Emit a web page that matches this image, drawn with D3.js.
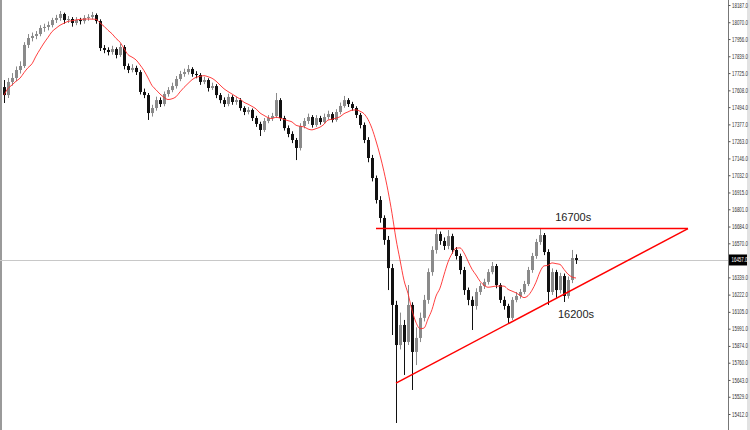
<!DOCTYPE html>
<html><head><meta charset="utf-8">
<script src="https://cdn.jsdelivr.net/npm/d3@7"></script>
<style>html,body{margin:0;padding:0;background:#fff;overflow:hidden}svg{display:block}</style>
</head><body><svg id="c" width="750" height="430"></svg>
<script>
const opens = [17630,17576,17665,17692,17746,17773,17916,17963,17977,17990,18031,18038,18051,18085,18099,18126,18085,18092,18065,18085,18078,18099,18106,18119,18078,17895,17882,17868,17888,17848,17902,17773,17746,17760,17732,17597,17576,17454,17488,17542,17515,17583,17610,17637,17685,17719,17732,17753,17719,17712,17665,17678,17624,17637,17576,17542,17515,17563,17529,17542,17488,17461,17475,17420,17380,17339,17400,17420,17434,17542,17420,17352,17312,17271,17217,17366,17400,17427,17373,17420,17393,17427,17447,17407,17461,17502,17542,17515,17488,17441,17373,17271,17149,17013,16864,16742,16593,16402,16152,15880,16016,15901,16152,15833,15928,16064,16186,16375,16525,16633,16586,16552,16619,16525,16484,16389,16253,16186,16145,16240,16280,16308,16375,16416,16287,16186,16145,16064,16186,16213,16240,16294,16389,16484,16579,16626,16511,16240,16375,16253,16348,16213,16321,16470];
const highs = [17678,17692,17725,17770,17805,17935,17990,18000,18010,18050,18060,18075,18100,18120,18146,18135,18112,18105,18105,18100,18118,18125,18140,18130,18090,17915,17900,17910,17900,17925,17915,17790,17785,17775,17745,17620,17590,17510,17565,17560,17600,17630,17660,17705,17740,17755,17780,17765,17738,17725,17700,17690,17660,17650,17590,17560,17585,17575,17565,17555,17500,17495,17485,17435,17395,17420,17440,17455,17590,17555,17435,17370,17330,17285,17385,17420,17450,17440,17440,17435,17450,17470,17460,17480,17525,17570,17555,17530,17500,17455,17390,17290,17170,17030,16890,16760,16620,16430,16180,16100,16050,16287,16170,16000,16100,16220,16400,16550,16674,16650,16610,16660,16635,16545,16500,16410,16270,16210,16265,16300,16330,16395,16443,16430,16300,16210,16160,16205,16240,16260,16315,16410,16505,16600,16674,16640,16530,16400,16390,16370,16365,16345,16525,16495];
const lows = [17522,17556,17640,17670,17722,17760,17895,17940,17955,17975,18005,18015,18035,18065,18080,18060,18065,18040,18050,18055,18060,18080,18090,18060,17875,17860,17845,17850,17825,17835,17750,17725,17730,17712,17580,17555,17407,17430,17470,17495,17500,17565,17595,17620,17670,17700,17715,17700,17690,17645,17650,17600,17610,17555,17520,17495,17500,17510,17510,17470,17440,17445,17400,17360,17298,17325,17385,17400,17420,17400,17335,17290,17250,17135,17200,17350,17380,17355,17360,17375,17380,17410,17390,17395,17445,17490,17495,17470,17420,17350,17250,17120,16990,16840,16710,16560,16253,15948,15351,15850,15677,15880,15575,15744,15900,16040,16160,16350,16500,16560,16525,16530,16500,16460,16360,16220,16150,15982,16120,16220,16260,16290,16360,16265,16165,16120,16030,16050,16170,16195,16225,16280,16370,16465,16560,16490,16152,16220,16200,16230,16172,16195,16300,16430];
const closes = [17576,17665,17692,17746,17773,17916,17963,17977,17990,18031,18038,18051,18085,18099,18126,18085,18092,18065,18085,18078,18099,18106,18119,18078,17895,17882,17868,17888,17848,17902,17773,17746,17760,17732,17597,17576,17454,17488,17542,17515,17583,17610,17637,17685,17719,17732,17753,17719,17712,17665,17678,17624,17637,17576,17542,17515,17563,17529,17542,17488,17461,17475,17420,17380,17339,17400,17420,17434,17542,17420,17352,17312,17271,17217,17366,17400,17427,17373,17420,17393,17427,17447,17407,17461,17502,17542,17515,17488,17441,17373,17271,17149,17013,16864,16742,16593,16402,16152,15880,16016,15901,16152,15833,15928,16064,16186,16375,16525,16633,16586,16552,16619,16525,16484,16389,16253,16186,16145,16240,16280,16308,16375,16416,16287,16186,16145,16064,16186,16213,16240,16294,16389,16484,16579,16626,16511,16240,16375,16253,16348,16213,16321,16470,16457];
const maPeriod = 8;
const tickLabels = [18187,18070,17956,17839,17725,17608,17494,17377,17263,17146,17032,16915,16801,16684,16570,16339,16222,16105,15991,15874,15760,15643,15529,15412];
const currentPrice = 16457;
const resistance = {from: 93, to: 171, price: 16670};
const support = {from: 98, to: 171, p1: 15622, p2: 16670};
const annotations = [{text: "16700s", i: 142.3, price: 16722}, {text: "16200s", i: 143, price: 16060}];

const svg = d3.select("#c");
const x = d3.scaleLinear().domain([0, 181]).range([4, 728]);
const y = d3.scaleLinear().domain([15412, 18187]).range([414, 5]);
const axisFont = "'Liberation Sans Narrow', 'Liberation Sans', Arial, sans-serif";

// frame
svg.append("rect").attr("x",0).attr("y",0).attr("width",750).attr("height",430).attr("fill","#fff");
svg.append("line").attr("x1",1).attr("x2",1).attr("y1",0).attr("y2",430).attr("stroke","#9a9a9a").attr("stroke-width",2);
svg.append("rect").attr("x",747).attr("y",0).attr("width",3).attr("height",430).attr("fill","#e2e2e2");

// current price line
svg.append("line").attr("x1",0).attr("x2",728).attr("y1",Math.round(y(currentPrice))+0.5).attr("y2",Math.round(y(currentPrice))+0.5)
  .attr("stroke","#c8c8c8").attr("stroke-width",1);

// candles
const data = closes.map((c,i)=>({i, o:opens[i], h:highs[i], l:lows[i], c}));
const g = svg.append("g");
g.selectAll("line.wick").data(data).join("line")
  .attr("x1",d=>Math.round(x(d.i))+0.5).attr("x2",d=>Math.round(x(d.i))+0.5)
  .attr("y1",d=>y(d.h)).attr("y2",d=>y(d.l))
  .attr("stroke",d=>d.c>=d.o?"#8a8a8a":"#111").attr("stroke-width",1);
g.selectAll("rect.body").data(data).join("rect")
  .attr("x",d=>Math.round(x(d.i))-1).attr("width",3)
  .attr("y",d=>y(Math.max(d.o,d.c))).attr("height",d=>Math.max(1,Math.abs(y(d.o)-y(d.c))))
  .attr("fill",d=>d.c>=d.o?"#8a8a8a":"#111");

// moving average
const ma = closes.map((c,i)=>{const s=closes.slice(Math.max(0,i-maPeriod+1),i+1);return {i, v:d3.mean(s)};});
svg.append("path").datum(ma).attr("fill","none").attr("stroke","#ff2a2a").attr("stroke-width",0.9)
  .attr("d", d3.line().x(d=>x(d.i)).y(d=>y(d.v)).curve(d3.curveMonotoneX));

// trend lines
svg.append("line").attr("x1",x(resistance.from)).attr("x2",x(resistance.to)).attr("y1",y(resistance.price)).attr("y2",y(resistance.price))
  .attr("stroke","#ff0000").attr("stroke-width",1.5);
svg.append("line").attr("x1",x(support.from)).attr("x2",x(support.to)).attr("y1",y(support.p1)).attr("y2",y(support.p2))
  .attr("stroke","#ff0000").attr("stroke-width",1.5);

// annotations
svg.selectAll("text.ann").data(annotations).join("text")
  .attr("x",d=>x(d.i)).attr("y",d=>y(d.price)).attr("text-anchor","middle")
  .attr("font-family","Liberation Sans, Arial, sans-serif").attr("font-size",11).attr("fill","#222")
  .text(d=>d.text);

// axis
const axis = d3.axisRight(y).tickValues(tickLabels).tickFormat(d3.format(".1f")).tickSize(2).tickPadding(1.5);
const ag = svg.append("g").attr("transform","translate(728.5,0)").call(axis);
ag.select(".domain").attr("stroke","#777").attr("d","M0,0V430");
ag.selectAll(".tick line").attr("stroke","#555");
ag.selectAll(".tick text").attr("x",0).attr("transform","translate(3.5,0) scale(0.68,1)")
  .attr("font-family",axisFont).attr("font-size",6.5).attr("fill","#333");

// current price label
const cy = y(currentPrice);
svg.append("rect").attr("x",729).attr("y",cy-5.5).attr("width",18).attr("height",11).attr("fill","#000");
svg.append("text").attr("x",0).attr("y",0).attr("transform",`translate(731.5,${cy+2.2}) scale(0.68,1)`)
  .attr("font-family",axisFont).attr("font-size",6.5).attr("fill","#fff")
  .text(d3.format(".1f")(currentPrice));
</script></body></html>
